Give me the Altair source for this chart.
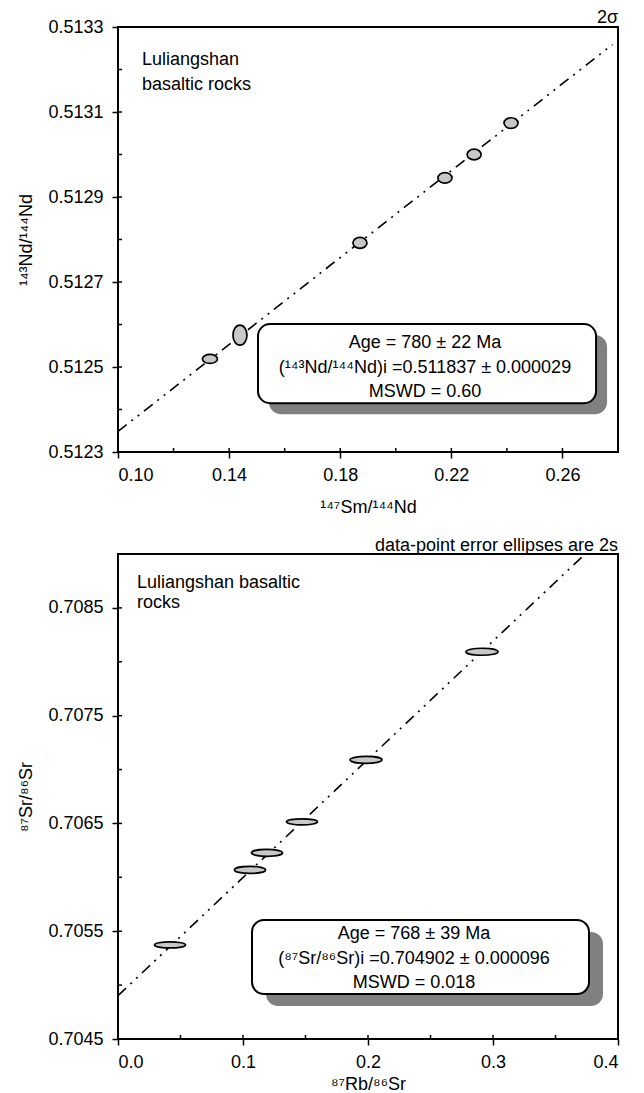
import altair as alt
import pandas as pd

FONT = "Liberation Sans"
FS = 18

# ---------------- Sm-Nd panel data ----------------
nd_x = [0.1331, 0.1439, 0.1871, 0.2177, 0.2282, 0.2415]
nd_y = [0.512519, 0.512575, 0.512792, 0.512945, 0.513000, 0.513074]
nd_xerr = [0.0027, 0.00252, 0.00252, 0.00252, 0.00252, 0.00252]      # 2s half widths
nd_yerr = [0.0000106, 0.0000235, 0.0000129, 0.0000125, 0.0000125, 0.0000125]
nd_intercept = 0.511837
nd_slope = 0.005114
nd_line_x = [0.10, 0.278]
nd_xdomain = [0.10, 0.28]
nd_ydomain = [0.5123, 0.5133]
nd_xmajor = [0.10, 0.14, 0.18, 0.22, 0.26]
nd_xminor = [0.10, 0.12, 0.14, 0.16, 0.18, 0.20, 0.22, 0.24, 0.26, 0.28]
nd_ymajor = [0.5123, 0.5125, 0.5127, 0.5129, 0.5131, 0.5133]
nd_yminor = [0.5123, 0.5124, 0.5125, 0.5126, 0.5127, 0.5128, 0.5129, 0.5130, 0.5131, 0.5132, 0.5133]
nd_box = dict(x=[0.1504], x2=[0.2721], y=[0.512415], y2=[0.512601])
nd_box_text = ["Age = 780 ± 22 Ma", "(¹⁴³Nd/¹⁴⁴Nd)i =0.511837 ± 0.000029", "MSWD = 0.60"]
nd_box_text_x = [0.2105, 0.2105, 0.2105]
nd_box_text_y = [0.512545, 0.512486, 0.512429]
nd_label_text = ["Luliangshan", "basaltic rocks"]
nd_label_x = [0.1086, 0.1086]
nd_label_y = [0.513211, 0.513152]

# ---------------- Rb-Sr panel data ----------------
sr_x = [0.0416, 0.1056, 0.1192, 0.1472, 0.1984, 0.2912]
sr_y = [0.705373, 0.706069, 0.706227, 0.706515, 0.707090, 0.708093]
sr_xerr = [0.0124, 0.0124, 0.0124, 0.0124, 0.0128, 0.0128]
sr_yerr = [0.000028, 0.0000325, 0.0000325, 0.000028, 0.0000325, 0.0000325]
sr_intercept = 0.704902
sr_slope = 0.010966
sr_line_x = [0.0, 0.3737]
sr_xdomain = [0.0, 0.4]
sr_ydomain = [0.7045, 0.7090]
sr_xmajor = [0.0, 0.1, 0.2, 0.3, 0.4]
sr_xminor = [0.0, 0.05, 0.1, 0.15, 0.2, 0.25, 0.3, 0.35, 0.4]
sr_ymajor = [0.7045, 0.7055, 0.7065, 0.7075, 0.7085]
sr_yminor = [0.7045, 0.7050, 0.7055, 0.7060, 0.7065, 0.7070, 0.7075, 0.7080, 0.7085, 0.7090]
sr_box = dict(x=[0.1072], x2=[0.3768], y=[0.704918], y2=[0.705605])
sr_box_text = ["Age = 768 ± 39 Ma", "(⁸⁷Sr/⁸⁶Sr)i =0.704902 ± 0.000096", "MSWD  = 0.018"]
sr_box_text_x = [0.2368, 0.2368, 0.2368]
sr_box_text_y = [0.705428, 0.705196, 0.704974]
sr_label_text = ["Luliangshan basaltic", "rocks"]
sr_label_x = [0.0152, 0.0152]
sr_label_y = [0.708688, 0.708502]


def ellipse_path(r):
    k = 0.5523
    a = k * r
    return (f"M-1,0C-1,{-a:.4f} {-k},{-r:.4f} 0,{-r:.4f}"
            f"C{k},{-r:.4f} 1,{-a:.4f} 1,0"
            f"C1,{a:.4f} {k},{r:.4f} 0,{r:.4f}"
            f"C{-k},{r:.4f} -1,{a:.4f} -1,0Z")


def panel(W, H, xs, ys, xe, ye, icpt, slope, line_x, xdom, ydom,
          xmajor, xminor, ymajor, yminor, xfmt, yfmt, xtitle, ytitle,
          box, btext, btx, bty, ltext, lx, ly, toptitle, shadow_dx, shadow_dy,
          title_offset, xtitle_pad):
    sx = alt.Scale(domain=xdom, nice=False, zero=False)
    sy = alt.Scale(domain=ydom, nice=False, zero=False)
    ax = alt.Axis(values=xmajor, format=xfmt, title=xtitle, titlePadding=xtitle_pad)
    ay = alt.Axis(values=ymajor, format=yfmt, title=ytitle)
    pxx = W / (xdom[1] - xdom[0])
    pxy = H / (ydom[1] - ydom[0])

    def X(f):
        return alt.X(f, scale=sx, axis=ax, title=xtitle)

    def Y(f):
        return alt.Y(f, scale=sy, axis=ay, title=ytitle)

    pts = pd.DataFrame({"x": xs, "y": ys, "xe": xe, "ye": ye})
    w = 2 * pts["xe"] * pxx
    h = 2 * pts["ye"] * pxy
    pts["shape"] = [ellipse_path(hh / ww) for hh, ww in zip(h, w)]
    pts["size"] = w ** 2

    line_df = pd.DataFrame({"x": line_x, "y": [icpt + slope * v for v in line_x]})

    line = alt.Chart(line_df).mark_line(
        color="black", strokeWidth=1.6, strokeDash=[11, 6, 2, 6, 2, 6]
    ).encode(x=X("x:Q"), y=Y("y:Q"))

    box_df = pd.DataFrame(box)
    shadow = alt.Chart(box_df).mark_rect(
        color="#808080", cornerRadius=12,
        xOffset=shadow_dx, x2Offset=shadow_dx, yOffset=shadow_dy, y2Offset=shadow_dy
    ).encode(x=X("x:Q"), x2="x2:Q", y=Y("y:Q"), y2="y2:Q")
    rect = alt.Chart(box_df).mark_rect(
        fill="white", stroke="black", strokeWidth=2, cornerRadius=12
    ).encode(x=X("x:Q"), x2="x2:Q", y=Y("y:Q"), y2="y2:Q")

    btext_df = pd.DataFrame({"x": btx, "y": bty, "t": btext})
    boxtext = alt.Chart(btext_df).mark_text(
        font=FONT, fontSize=FS, align="center", baseline="alphabetic", color="black"
    ).encode(x=X("x:Q"), y=Y("y:Q"), text="t:N")

    ltext_df = pd.DataFrame({"x": lx, "y": ly, "t": ltext})
    labeltext = alt.Chart(ltext_df).mark_text(
        font=FONT, fontSize=FS, align="left", baseline="alphabetic", color="black"
    ).encode(x=X("x:Q"), y=Y("y:Q"), text="t:N")

    ell = alt.Chart(pts).mark_point(
        filled=True, color="#c8c8c8", stroke="black", strokeWidth=1.7,
        opacity=1, fillOpacity=1, strokeOpacity=1
    ).encode(
        x=X("x:Q"), y=Y("y:Q"),
        shape=alt.Shape("shape:N", scale=None),
        size=alt.Size("size:Q", scale=None),
    )

    xt = alt.Chart(pd.DataFrame({"v": xminor})).mark_rule(
        color="black", strokeWidth=1.5
    ).encode(x=X("v:Q"), y=alt.value(H), y2=alt.value(H - 4))
    yt = alt.Chart(pd.DataFrame({"v": yminor})).mark_rule(
        color="black", strokeWidth=1.5
    ).encode(y=Y("v:Q"), x=alt.value(0), x2=alt.value(4))

    return alt.layer(line, shadow, rect, boxtext, labeltext, ell, xt, yt).properties(
        width=W, height=H,
        title=alt.Title(toptitle, anchor="end", frame="group", fontSize=FS,
                        fontWeight="normal", font=FONT, color="black",
                        offset=title_offset),
    )


top = panel(500, 425, nd_x, nd_y, nd_xerr, nd_yerr, nd_intercept, nd_slope, nd_line_x,
            nd_xdomain, nd_ydomain, nd_xmajor, nd_xminor, nd_ymajor, nd_yminor,
            ".2f", ".4f", "¹⁴⁷Sm/¹⁴⁴Nd", "¹⁴³Nd/¹⁴⁴Nd",
            nd_box, nd_box_text, nd_box_text_x, nd_box_text_y,
            nd_label_text, nd_label_x, nd_label_y, "2σ", 11, 11, -9, 14)

bottom = panel(500, 485, sr_x, sr_y, sr_xerr, sr_yerr, sr_intercept, sr_slope, sr_line_x,
               sr_xdomain, sr_ydomain, sr_xmajor, sr_xminor, sr_ymajor, sr_yminor,
               ".1f", ".4f", "⁸⁷Rb/⁸⁶Sr", "⁸⁷Sr/⁸⁶Sr",
               sr_box, sr_box_text, sr_box_text_x, sr_box_text_y,
               sr_label_text, sr_label_x, sr_label_y,
               "data-point error ellipses are 2s", 14, 12, -4, 4)

chart = alt.vconcat(top, bottom, spacing=18).properties(
    padding={"top": 0, "left": 8, "right": 5, "bottom": 0},
    background="white",
).configure_view(
    stroke="black", strokeWidth=2
).configure_axis(
    domain=False, grid=False,
    tickColor="black", tickWidth=1.5, tickSize=6,
    labelFont=FONT, labelFontSize=FS, labelColor="black",
    titleFont=FONT, titleFontSize=FS, titleFontWeight="normal", titleColor="black",
).configure_axisY(
    labelPadding=9, titlePadding=12,
).configure_axisX(
    labelPadding=8,
)

chart.save("out.html", embed_options={"renderer": "svg", "actions": False})
